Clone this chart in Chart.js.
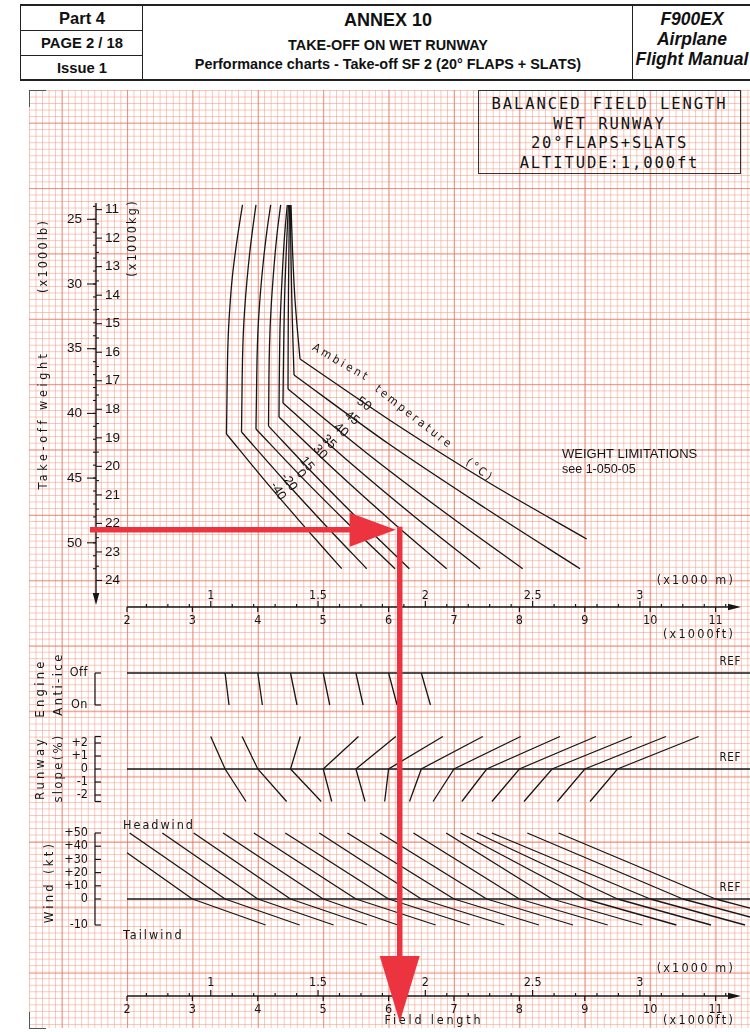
<!DOCTYPE html>
<html>
<head>
<meta charset="utf-8">
<title>F900EX - Balanced field length, wet runway</title>
<script src="https://cdn.jsdelivr.net/npm/chart.js@4.4.1/dist/chart.umd.min.js"></script>
<style>
  html, body { margin:0; padding:0; background:#fff; }
  #page { position:relative; width:750px; height:1032px; overflow:hidden; background:#fff;
          font-family:"Liberation Sans Narrow","Liberation Sans",Arial,sans-serif; color:#111; }
  #paper { position:absolute; left:29px; top:90px; width:721px; height:938px;
    background-image:
      linear-gradient(to right, rgba(228,104,84,.6) 1px, transparent 1px),
      linear-gradient(to bottom, rgba(228,104,84,.6) 1px, transparent 1px),
      linear-gradient(to right, rgba(242,150,128,.55) 1px, transparent 1px),
      linear-gradient(to bottom, rgba(242,150,128,.55) 1px, transparent 1px);
    background-size: 65.4px 65.4px, 65.4px 65.4px, 6.54px 6.54px, 6.54px 6.54px;
    background-position: 32.7px 0, 0 32.7px, 0 0, 0 0; }
  .corner { position:absolute; width:16px; height:16px; border-color:#555; border-style:solid; border-width:0; }
  #hdr { position:absolute; left:20px; top:4px; width:740px; height:73px; border-top:2px solid #222; border-bottom:2px solid #222; border-left:1.5px solid #222; }
  .vd { position:absolute; top:0; height:73px; border-left:1.5px solid #222; }
  .hd { position:absolute; left:0; width:122px; border-top:1.5px solid #222; }
  .ht { position:absolute; text-align:center; font-weight:bold; white-space:nowrap; }
  #titlebox { position:absolute; left:478px; top:90px; width:263px; height:84px; border:1.3px solid #333; box-sizing:border-box;
     font-family:"DejaVu Sans Mono",monospace; font-size:15.5px; letter-spacing:1.9px; text-align:center; line-height:19.6px; padding-top:4px; color:#111; }
  canvas { position:absolute; left:0; top:0; }
</style>
</head>
<body>
<div id="page">
  <div id="hdr">
    <div class="vd" style="left:121px"></div>
    <div class="vd" style="left:611px"></div>
    <div class="hd" style="top:24px"></div>
    <div class="hd" style="top:49px"></div>
    <div class="ht" style="left:0;width:122px;top:3px;font-size:16.5px">Part 4</div>
    <div class="ht" style="left:0;width:122px;top:29px;font-size:14.8px">PAGE 2 / 18</div>
    <div class="ht" style="left:0;width:122px;top:54px;font-size:14.8px">Issue 1</div>
    <div class="ht" style="left:122px;width:490px;top:4px;font-size:18px">ANNEX 10</div>
    <div class="ht" style="left:122px;width:490px;top:31px;font-size:14.4px">TAKE-OFF ON WET RUNWAY</div>
    <div class="ht" style="left:122px;width:490px;top:50px;font-size:14.4px">Performance charts - Take-off SF 2 (20° FLAPS + SLATS)</div>
    <div class="ht" style="left:612px;width:118px;top:3px;font-size:17.5px;font-style:italic;line-height:20px">F900EX<br>Airplane<br>Flight Manual</div>
  </div>
  <div id="paper"></div>
  <div class="corner" style="left:29px;top:90px;border-top-width:1.5px;border-left-width:1.5px"></div>
  <div class="corner" style="left:29px;top:1012px;border-bottom-width:1.5px;border-left-width:1.5px"></div>
  <div id="titlebox">BALANCED FIELD LENGTH<br>WET RUNWAY<br>20°FLAPS+SLATS<br>ALTITUDE:1,000ft</div>
  <canvas id="c" width="750" height="1032"></canvas>
</div>
<script>
// ---------------- DATA ----------------
// Field length in 1000 ft, take-off weight in 1000 lb
const TEMPS = [-40, -20, 0, 15, 30, 35, 40, 45, 50];            // ambient temperature (°C)

// upper (near-vertical) branch of each temperature curve
const curveUpperKlb = [
  [23.89, 25.83, 27.76, 29.69, 31.62, 33.56, 35.87, 38.58, 41.59],
  [23.89, 25.83, 27.76, 29.69, 31.62, 33.56, 35.87, 38.58, 41.44],
  [23.89, 25.83, 27.76, 29.69, 31.62, 33.56, 35.87, 38.58, 41.21],
  [23.89, 25.83, 27.76, 29.69, 31.62, 33.56, 35.87, 38.58, 40.98],
  [23.89, 25.83, 27.76, 29.69, 31.62, 33.56, 35.87, 38.19, 40.28],
  [23.89, 26.21, 28.53, 30.85, 33.17, 35.87, 39.20],
  [23.89, 28.14, 32.78, 38.11],
  [23.89, 28.14, 32.78, 37.03],
  [23.89, 27.37, 31.24, 35.79]
];
const curveUpperKft = [
  [3.766, 3.705, 3.651, 3.606, 3.575, 3.552, 3.537, 3.529, 3.521],
  [3.972, 3.919, 3.873, 3.835, 3.804, 3.781, 3.766, 3.758, 3.751],
  [4.197, 4.141, 4.095, 4.057, 4.026, 4.003, 3.988, 3.980, 3.972],
  [4.350, 4.301, 4.263, 4.232, 4.206, 4.187, 4.174, 4.168, 4.164],
  [4.451, 4.416, 4.390, 4.370, 4.352, 4.339, 4.332, 4.327, 4.324],
  [4.469, 4.446, 4.427, 4.411, 4.401, 4.393, 4.385],
  [4.485, 4.474, 4.466, 4.462],
  [4.497, 4.508, 4.528, 4.554],
  [4.508, 4.531, 4.569, 4.645]
];
// lower (diagonal) branch of each temperature curve
const curveLowerKlb = [
  [41.59, 45.20, 48.65, 52.0],
  [41.44, 45.09, 48.60, 52.0],
  [41.21, 44.98, 48.56, 52.0],
  [40.98, 44.82, 48.49, 52.0],
  [40.28, 44.40, 48.29, 52.0],
  [39.20, 43.72, 47.97, 52.0],
  [38.11, 43.04, 47.64, 52.0],
  [37.03, 42.39, 47.29, 52.0],
  [35.79, 40.82, 45.46, 49.71]
];
const curveLowerKft = [
  [3.521, 4.109, 4.696, 5.283],
  [3.751, 4.388, 5.026, 5.665],
  [3.972, 4.681, 5.390, 6.098],
  [4.164, 4.881, 5.599, 6.317],
  [4.324, 5.179, 6.034, 6.888],
  [4.385, 5.390, 6.393, 7.398],
  [4.462, 5.658, 6.855, 8.050],
  [4.554, 6.011, 7.469, 8.927],
  [4.645, 6.107, 7.567, 9.029]
];
// where each temperature label sits (kft, klb) and its slant (deg)
const tempLabelKft = [4.309, 4.477, 4.661, 4.752, 4.951, 5.089, 5.272, 5.440, 5.624];
const tempLabelKlb = [46.0, 45.30, 44.68, 43.91, 42.98, 42.21, 41.28, 40.36, 39.27];
const tempLabelDeg = [58, 54, 52, 50, 47, 44, 41, 38, 35];

// engine anti-ice correction (Off -> On)
const iceOffKft = [3.5, 4.0, 4.5, 5.0, 5.5, 6.0, 6.5];
const iceOnKft  = [3.56, 4.07, 4.60, 5.10, 5.61, 6.13, 6.64];

// runway slope correction (-2.5 % -> 0 % -> +2.5 %)
const slopeRefKft  = [3.5, 4.0, 4.5, 5.0, 5.5, 6.0, 6.5, 7.0, 7.5, 8.0, 8.5, 9.0, 9.5];
const slopeUpKft   = [3.28, 3.76, 4.65, 5.54, 6.11, 6.83, 7.44, 8.02, 8.62, 9.17, 9.72, 10.24, 10.74];
const slopeDownKft = [3.82, 4.44, 4.97, 5.13, 5.64, 5.94, 6.32, 6.68, 7.12, 7.58, 8.07, 8.58, 9.08];
const SLOPE_END = 2.5;

// wind correction (headwind start -> 0 kt -> -10 kt tailwind)
const windRefKft     = [3.0, 3.5, 4.0, 4.5, 5.0, 5.5, 6.0, 6.5, 7.0, 7.5, 8.0, 8.5, 9.0, 9.5, 10.0, 10.5, 11.0];
const windStartKft   = [2.0, 2.04, 2.54, 3.02, 3.47, 3.94, 4.42, 4.94, 5.37, 5.87, 6.38, 6.88, 7.10, 7.35, 7.58, 8.12, 8.60];
const windStartKt    = [35, 50, 50, 50, 50, 50, 50, 50, 50, 50, 50, 50, 50, 50, 50, 50, 50];
const windTailEndKft = [4.12, 4.64, 5.16, 5.67, 6.14, 6.72, 7.24, 7.77, 8.30, 8.82, 9.35, 9.88, 10.40, 10.93, 11.45, 11.98, 12.50];
const TAIL_END = -10;

// axis ticks
const lbTicks  = [25, 30, 35, 40, 45, 50];
const kgTicks  = [11, 12, 13, 14, 15, 16, 17, 18, 19, 20, 21, 22, 23, 24];
const ftTicks  = [2, 3, 4, 5, 6, 7, 8, 9, 10, 11];
const mLabels  = [1, 1.5, 2, 2.5, 3];
const slopeTicks = [2, 1, 0, -1, -2];
const headTicks  = [50, 40, 30, 20, 10, 0];
const tailTicks  = [-10];

// worked example (red arrows)
const exampleWeightKlb = 49.0;
const exampleFieldKft  = 6.17;

// ---------------- LAYOUT (pixels) ----------------
const L = {
  W: 750, H: 1032,
  xPx0: 127, xVal0: 2, xPxPer: 65.4,
  wPx0: 219.3, wVal0: 25, wPxPer: 12.94,
  iceOffPx: 673, iceOnPx: 705,
  slopeZeroPx: 769, slopePxPer: 13,
  windZeroPx: 899, headPxPer: 1.32, tailPxPer: 2.6,
  wAxisX: 96, wAxisTop: 203, wAxisTip: 605,
  panelAxisX: 95,
  topAxisY: 607, botAxisY: 996, axisTipX: 741,
};
const KG2KLB = 2.20462, M2FT = 3.28084;
const INK = '#161616', RED = '#ec3440';
const CAD = "'DejaVu Sans Condensed','DejaVu Sans',sans-serif";
const SANS = "'Liberation Sans',Arial,sans-serif";

const xMin = L.xVal0 - L.xPx0 / L.xPxPer, xMax = L.xVal0 + (L.W - L.xPx0) / L.xPxPer;
function upScale(zeroPx, per) { return { min: -(L.H - zeroPx) / per, max: zeroPx / per, reverse: false }; }
function downScale(px0, v0, per) { return { min: v0 - px0 / per, max: v0 + (L.H - px0) / per, reverse: true }; }
const hidden = { type: 'linear', display: false, bounds: 'data', grace: 0 };

// ---------------- DATASETS ----------------
const LINE = { borderColor: INK, borderWidth: 1.3, pointRadius: 0, pointHoverRadius: 0, fill: false, tension: 0, xAxisID: 'x' };
const pts = (xs, ys) => xs.map((x, i) => ({ x, y: ys[i] }));
const datasets = [];
TEMPS.forEach((t, i) => {
  datasets.push({ ...LINE, label: t + '°C upper', yAxisID: 'yW', tension: 0.35, data: pts(curveUpperKft[i], curveUpperKlb[i]) });
  datasets.push({ ...LINE, label: t + '°C lower', yAxisID: 'yW', tension: 0.3, data: pts(curveLowerKft[i], curveLowerKlb[i]) });
});
datasets.push({ ...LINE, label: 'anti-ice REF', yAxisID: 'yIce', borderWidth: 1.6, data: [{ x: L.xVal0, y: 0 }, { x: xMax, y: 0 }] });
iceOffKft.forEach((x, i) => datasets.push({ ...LINE, label: 'ice ' + i, yAxisID: 'yIce', data: [{ x, y: 0 }, { x: iceOnKft[i], y: 1 }] }));
datasets.push({ ...LINE, label: 'slope REF', yAxisID: 'ySlope', borderWidth: 1.6, data: [{ x: L.xVal0, y: 0 }, { x: xMax, y: 0 }] });
slopeRefKft.forEach((x, i) => datasets.push({ ...LINE, label: 'slope ' + i, yAxisID: 'ySlope',
  data: [{ x: slopeDownKft[i], y: -SLOPE_END }, { x, y: 0 }, { x: slopeUpKft[i], y: SLOPE_END }] }));
datasets.push({ ...LINE, label: 'wind REF', yAxisID: 'yHead', borderWidth: 1.6, data: [{ x: L.xVal0, y: 0 }, { x: xMax, y: 0 }] });
windRefKft.forEach((x, i) => {
  datasets.push({ ...LINE, label: 'head ' + i, yAxisID: 'yHead', data: [{ x: windStartKft[i], y: windStartKt[i] }, { x, y: 0 }] });
  datasets.push({ ...LINE, label: 'tail ' + i, yAxisID: 'yTail', data: [{ x, y: 0 }, { x: windTailEndKft[i], y: TAIL_END }] });
});

// ---------------- DRAW HELPERS ----------------
function seg(ctx, x1, y1, x2, y2) { ctx.beginPath(); ctx.moveTo(x1, y1); ctx.lineTo(x2, y2); ctx.stroke(); }
function txt(ctx, s, x, y, o = {}) {
  ctx.save();
  ctx.font = o.font || ('12px ' + SANS);
  ctx.textAlign = o.align || 'center';
  ctx.textBaseline = o.base || 'middle';
  ctx.letterSpacing = (o.ls || 0) + 'px';
  ctx.fillStyle = o.color || INK;
  ctx.translate(x, y);
  if (o.rot) ctx.rotate(o.rot * Math.PI / 180);
  ctx.fillText(s, 0, 0);
  ctx.restore();
}
function head(ctx, tx, ty, dx, dy, len, half, color) {
  const nx = -dy, ny = dx;
  ctx.save(); ctx.fillStyle = color; ctx.beginPath();
  ctx.moveTo(tx, ty);
  ctx.lineTo(tx - dx * len + nx * half, ty - dy * len + ny * half);
  ctx.lineTo(tx - dx * len - nx * half, ty - dy * len - ny * half);
  ctx.closePath(); ctx.fill(); ctx.restore();
}
function fieldAxis(ctx, x, y0, lab) {
  ctx.lineWidth = 1.4;
  seg(ctx, x.getPixelForValue(ftTicks[0]), y0, L.axisTipX - 8, y0);
  head(ctx, L.axisTipX, y0, 1, 0, 13, 3.2, INK);
  ctx.lineWidth = 1.2;
  ftTicks.forEach(v => { const p = x.getPixelForValue(v); seg(ctx, p, y0, p, y0 + 5);
    txt(ctx, String(v), p, y0 + lab.ft, { font: '12.5px ' + CAD }); });
  for (let k = 7; k <= 34; k++) {
    const m = k / 10, p = x.getPixelForValue(m * M2FT);
    seg(ctx, p, y0, p, y0 - (k % 5 === 0 ? 6 : 3));
  }
  mLabels.forEach(m => txt(ctx, String(m), x.getPixelForValue(m * M2FT), y0 + lab.m, { font: '12.5px ' + CAD }));
  txt(ctx, '(x1000 m)', 735, y0 + lab.mUnit, { font: '12.5px ' + CAD, align: 'right', ls: 2.2 });
  txt(ctx, '(x1000ft)', 735, y0 + lab.ftUnit, { font: '12.5px ' + CAD, align: 'right', ls: 2.2 });
}

const nomogram = {
  id: 'nomogram',
  afterDatasetsDraw(chart) {
    const ctx = chart.ctx, s = chart.scales, x = s.x;
    ctx.save();
    ctx.strokeStyle = INK; ctx.fillStyle = INK; ctx.lineCap = 'butt';

    // weight axis
    ctx.lineWidth = 1.4;
    seg(ctx, L.wAxisX, L.wAxisTop, L.wAxisX, L.wAxisTip - 8);
    head(ctx, L.wAxisX, L.wAxisTip, 0, 1, 12, 3.3, INK);
    ctx.lineWidth = 1.1;
    for (let v = 24; v <= 52; v++) { const p = s.yW.getPixelForValue(v); seg(ctx, L.wAxisX - 3, p, L.wAxisX, p); }
    lbTicks.forEach(v => { const p = s.yW.getPixelForValue(v); seg(ctx, L.wAxisX - 9, p, L.wAxisX, p);
      txt(ctx, String(v), 82, p, { align: 'right', font: '13.5px ' + SANS }); });
    for (let t = 11; t <= 24; t += 0.5) { const p = s.yW.getPixelForValue(t * KG2KLB);
      seg(ctx, L.wAxisX, p, L.wAxisX + (t % 1 === 0 ? 6 : 3), p); }
    kgTicks.forEach(t => txt(ctx, String(t), 105, s.yW.getPixelForValue(t * KG2KLB), { align: 'left', font: '13.5px ' + SANS }));
    txt(ctx, '(x1000lb)', 44, 256, { font: '12.5px ' + CAD, rot: -90, ls: 2.2 });
    txt(ctx, 'Take-off weight', 44, 420, { font: '12.5px ' + CAD, rot: -90, ls: 3.6 });
    txt(ctx, '(x1000kg)', 133, 238, { font: '12.5px ' + CAD, rot: -90, ls: 2.2 });

    // temperature labels
    TEMPS.forEach((t, i) => txt(ctx, String(t), x.getPixelForValue(tempLabelKft[i]), s.yW.getPixelForValue(tempLabelKlb[i]),
      { font: '13px ' + SANS, rot: tempLabelDeg[i] }));
    txt(ctx, 'Ambient', 313, 347, { font: '11.5px ' + CAD, align: 'left', rot: 30, ls: 3.0 });
    txt(ctx, 'temperature', 376, 388, { font: '11.5px ' + CAD, align: 'left', rot: 38, ls: 2.8 });
    txt(ctx, '(°C)', 467, 461, { font: '11.5px ' + CAD, align: 'left', rot: 37, ls: 2.8 });
    txt(ctx, 'WEIGHT LIMITATIONS', 562, 454, { font: '13px ' + SANS, align: 'left' });
    txt(ctx, 'see 1-050-05', 562, 470, { font: '12.5px ' + SANS, align: 'left' });

    // field length axes
    fieldAxis(ctx, x, L.topAxisY, { ft: 14, m: -11, mUnit: -26, ftUnit: 28 });
    fieldAxis(ctx, x, L.botAxisY, { ft: 14, m: -13, mUnit: -27, ftUnit: 25 });
    txt(ctx, 'Field length', 434, L.botAxisY + 25, { font: '12.5px ' + CAD, ls: 2.8 });

    // anti-ice axis
    ctx.lineWidth = 1.2;
    const ax = L.panelAxisX;
    const pOff = s.yIce.getPixelForValue(0), pOn = s.yIce.getPixelForValue(1);
    seg(ctx, ax, pOff, ax, pOn); seg(ctx, ax, pOff, ax + 6, pOff); seg(ctx, ax, pOn, ax + 6, pOn);
    txt(ctx, 'Off', 88, pOff, { align: 'right', font: '12.5px ' + CAD, ls: 0.5 });
    txt(ctx, 'On', 88, pOn, { align: 'right', font: '12.5px ' + CAD, ls: 0.5 });
    txt(ctx, 'Engine', 41, 688, { font: '13px ' + CAD, rot: -90, ls: 3.2 });
    txt(ctx, 'Anti-ice', 59, 684, { font: '13px ' + CAD, rot: -90, ls: 2.4 });
    txt(ctx, 'REF', 741, pOff - 11, { align: 'right', font: '11.5px ' + CAD, ls: 0.6 });

    // slope axis
    const pTop = s.ySlope.getPixelForValue(SLOPE_END), pBot = s.ySlope.getPixelForValue(-SLOPE_END);
    seg(ctx, ax, pTop, ax, pBot); seg(ctx, ax, pTop, ax + 6, pTop); seg(ctx, ax, pBot, ax + 6, pBot);
    slopeTicks.forEach(v => { const p = s.ySlope.getPixelForValue(v); seg(ctx, ax, p, ax + 6, p);
      txt(ctx, (v > 0 ? '+' : '') + v, 88, p, { align: 'right', font: '12.5px ' + CAD }); });
    txt(ctx, 'Runway', 41, 768, { font: '13px ' + CAD, rot: -90, ls: 3.0 });
    txt(ctx, 'slope(%)', 59, 768, { font: '13px ' + CAD, rot: -90, ls: 2.2 });
    txt(ctx, 'REF', 741, s.ySlope.getPixelForValue(0) - 11, { align: 'right', font: '11.5px ' + CAD, ls: 0.6 });

    // wind axis
    const pH = s.yHead.getPixelForValue(50), pT = s.yTail.getPixelForValue(-10);
    seg(ctx, ax, pH, ax, pT);
    headTicks.forEach(v => { const p = s.yHead.getPixelForValue(v); seg(ctx, ax, p, ax + 6, p);
      txt(ctx, (v > 0 ? '+' : '') + v, 88, p, { align: 'right', font: '12.5px ' + CAD }); });
    tailTicks.forEach(v => { const p = s.yTail.getPixelForValue(v); seg(ctx, ax, p, ax + 6, p);
      txt(ctx, String(v), 88, p, { align: 'right', font: '12.5px ' + CAD }); });
    txt(ctx, 'Wind (kt)', 50, 882, { font: '13px ' + CAD, rot: -90, ls: 3.2 });
    txt(ctx, 'Headwind', 123, 826, { align: 'left', font: '12.5px ' + CAD, ls: 2.0 });
    txt(ctx, 'Tailwind', 123, 936, { align: 'left', font: '12.5px ' + CAD, ls: 2.0 });
    txt(ctx, 'REF', 741, s.yHead.getPixelForValue(0) - 11, { align: 'right', font: '11.5px ' + CAD, ls: 0.6 });

    // worked example
    const ey = s.yW.getPixelForValue(exampleWeightKlb), ex = x.getPixelForValue(exampleFieldKft);
    ctx.strokeStyle = RED; ctx.lineWidth = 5.5;
    seg(ctx, 90, ey, ex - 40, ey);
    head(ctx, ex - 4, ey, 1, 0, 46, 17, RED);
    seg(ctx, ex, ey - 3, ex, 960);
    head(ctx, ex, 1022, 0, 1, 66, 20, RED);
    ctx.restore();
  }
};

new Chart(document.getElementById('c'), {
  type: 'line',
  data: { datasets },
  options: {
    responsive: false, animation: false, devicePixelRatio: 1,
    layout: { padding: 0 },
    plugins: { legend: { display: false }, tooltip: { enabled: false }, title: { display: false } },
    events: [],
    scales: {
      x: { ...hidden, min: xMin, max: xMax },
      yW: { ...hidden, position: 'left', ...downScale(L.wPx0, L.wVal0, L.wPxPer) },
      yIce: { ...hidden, position: 'left', ...downScale(L.iceOffPx, 0, L.iceOnPx - L.iceOffPx) },
      ySlope: { ...hidden, position: 'left', ...upScale(L.slopeZeroPx, L.slopePxPer) },
      yHead: { ...hidden, position: 'left', ...upScale(L.windZeroPx, L.headPxPer) },
      yTail: { ...hidden, position: 'left', ...upScale(L.windZeroPx, L.tailPxPer) }
    }
  },
  plugins: [nomogram]
});
</script>
</body>
</html>
